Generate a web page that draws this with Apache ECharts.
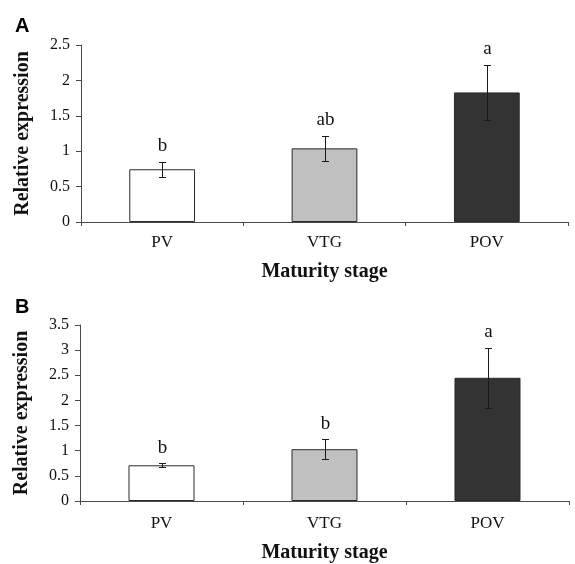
<!DOCTYPE html>
<html>
<head>
<meta charset="utf-8">
<script src="https://cdn.jsdelivr.net/npm/echarts@6/dist/echarts.min.js"></script>
<style>
html,body{margin:0;padding:0;background:#fff;}
#chart{width:575px;height:564px;}
</style>
</head>
<body>
<div id="chart"></div>
<script>
// ---- data ----
const categories = ['PV', 'VTG', 'POV'];
const meanA = [0.745, 1.04, 1.83];
const errA = [0.105, 0.175, 0.39];
const lettersA = ['b', 'ab', 'a'];
const meanB = [0.71, 1.03, 2.45];
const errB = [0.04, 0.195, 0.6];
const lettersB = ['b', 'b', 'a'];
const barColors = ['#ffffff', '#c0c0c0', '#333333'];
const yMaxA = 2.5;
const yMaxB = 3.5;
const yStep = 0.5;
const panelTitles = ['A', 'B'];
const xName = 'Maturity stage';
const yName = 'Relative expression';

const serif = '"Liberation Serif", "Times New Roman", serif';
const sans = '"Liberation Sans", Arial, sans-serif';
const axisColor = '#4a4a4a';

function makeX(gridIndex, labelMargin, nameGap) {
  return {
    type: 'category', gridIndex: gridIndex, data: categories,
    boundaryGap: true,
    axisLine: { show: true, lineStyle: { color: axisColor, width: 1 } },
    axisTick: { show: true, length: 4, lineStyle: { color: axisColor } },
    axisLabel: { color: '#111', fontFamily: serif, fontSize: 17, margin: labelMargin },
    name: xName, nameLocation: 'middle', nameGap: nameGap,
    nameTextStyle: { color: '#111', fontFamily: serif, fontSize: 20, fontWeight: 'bold' },
    splitLine: { show: false }
  };
}
function makeY(gridIndex, max) {
  return {
    type: 'value', gridIndex: gridIndex, min: 0, max: max, interval: yStep,
    axisLine: { show: true, lineStyle: { color: axisColor, width: 1 } },
    axisTick: { show: true, length: 5, lineStyle: { color: axisColor } },
    axisLabel: { color: '#111', fontFamily: serif, fontSize: 16, margin: 11 },
    splitLine: { show: false },
    name: yName, nameLocation: 'middle', nameGap: 48,
    nameTextStyle: { color: '#111', fontFamily: serif, fontSize: 20, fontWeight: 'bold' }
  };
}
function barSeries(idx, means) {
  return {
    type: 'bar', xAxisIndex: idx, yAxisIndex: idx, barWidth: '40.5%',
    data: means.map((v, i) => ({ value: v, itemStyle: { color: barColors[i] } })),
    itemStyle: { borderColor: '#2a2a2a', borderWidth: 1 },
    emphasis: { disabled: true }, z: 2
  };
}
function errSeries(idx, means, errs, letters) {
  return {
    type: 'custom', xAxisIndex: idx, yAxisIndex: idx, z: 5,
    data: means.map((m, i) => [i, m, errs[i]]),
    renderItem: function (params, api) {
      const x = api.value(0), m = api.value(1), e = api.value(2);
      const top = api.coord([x, m + e]);
      const bot = api.coord([x, m - e]);
      const cx = Math.round(top[0]) + 0.5;
      const ty = Math.round(top[1]) + 0.5, by = Math.round(bot[1]) + 0.5;
      const ls = { stroke: '#1a1a1a', lineWidth: 1 };
      return {
        type: 'group',
        children: [
          { type: 'line', shape: { x1: cx, y1: ty, x2: cx, y2: by }, style: ls },
          { type: 'line', shape: { x1: cx - 3.5, y1: ty, x2: cx + 3.5, y2: ty }, style: ls },
          { type: 'line', shape: { x1: cx - 3.5, y1: by, x2: cx + 3.5, y2: by }, style: ls },
          { type: 'text', style: { text: letters[params.dataIndex], x: cx, y: top[1] - 6,
              align: 'center', verticalAlign: 'bottom', fontSize: 19, fontFamily: serif, fill: '#111' } }
        ]
      };
    }
  };
}

const chart = echarts.init(document.getElementById('chart'), null, { renderer: 'canvas' });
chart.setOption({
  backgroundColor: '#fff',
  animation: false,
  title: [
    { text: panelTitles[0], left: 10, top: 11, textStyle: { fontFamily: sans, fontSize: 20, fontWeight: 'bold', color: '#000' } },
    { text: panelTitles[1], left: 10, top: 292, textStyle: { fontFamily: sans, fontSize: 20, fontWeight: 'bold', color: '#000' } }
  ],
  grid: [
    { left: 81, right: 7, top: 45, bottom: 342 },
    { left: 80, right: 6, top: 325, bottom: 63 }
  ],
  xAxis: [makeX(0, 12, 40), makeX(1, 14, 42)],
  yAxis: [makeY(0, yMaxA), makeY(1, yMaxB)],
  series: [
    barSeries(0, meanA), errSeries(0, meanA, errA, lettersA),
    barSeries(1, meanB), errSeries(1, meanB, errB, lettersB)
  ]
});
</script>
</body>
</html>
